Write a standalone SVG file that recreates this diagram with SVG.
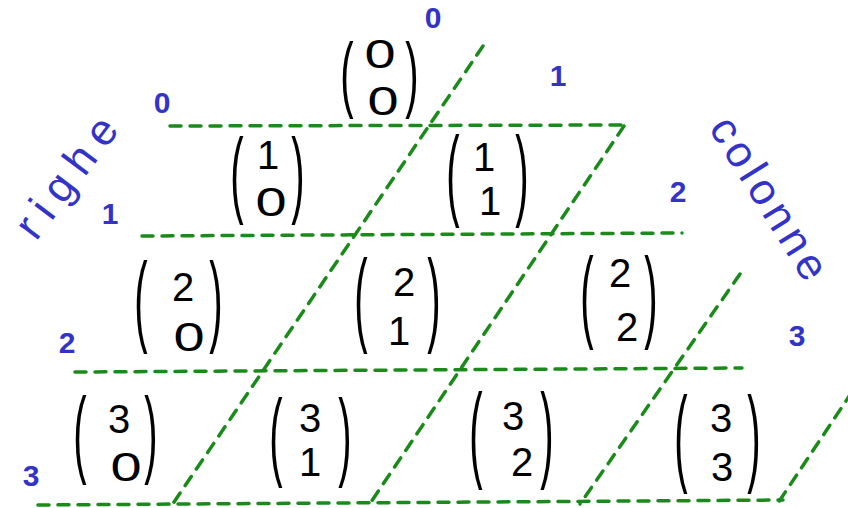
<svg xmlns="http://www.w3.org/2000/svg" width="848" height="508" viewBox="0 0 848 508">
<style>
.g{stroke:#1a8a1a;stroke-width:3.5;stroke-dasharray:11 9;stroke-linecap:round;fill:none}
.p{font-family:"Liberation Sans",Arial,sans-serif;font-size:32px;fill:#000;text-anchor:middle}
.d{font-family:"Liberation Sans",Arial,sans-serif;font-size:40px;fill:#000;text-anchor:middle}
.b{font-family:"Liberation Sans",Arial,sans-serif;font-size:30px;font-weight:bold;fill:#3333c8;text-anchor:middle}
.w{font-family:"Liberation Sans",Arial,sans-serif;font-size:44px;fill:#3333c8}
</style>
<rect width="848" height="508" fill="#fff"/>
<g id="connectors">
<line class="g" x1="170" y1="126" x2="624" y2="125"/>
<line class="g" x1="142" y1="236" x2="682" y2="233"/>
<line class="g" x1="75" y1="372" x2="742" y2="368"/>
<line class="g" x1="38" y1="505" x2="783" y2="500"/>
<line class="g" x1="483" y1="46" x2="172" y2="505"/>
<line class="g" x1="624" y1="126" x2="369" y2="505"/>
<line class="g" x1="740" y1="274" x2="580" y2="504"/>
<line class="g" x1="852" y1="392" x2="778" y2="503"/>
</g>
<g id="labels">
<text class="b" x="433" y="28" font-size="26">0</text>
<text class="b" x="558" y="86">1</text>
<text class="b" x="162" y="113" font-size="26">0</text>
<text class="b" x="110" y="224">1</text>
<text class="b" x="678" y="202">2</text>
<text class="b" x="67" y="353">2</text>
<text class="b" x="797" y="346">3</text>
<text class="b" x="31" y="486">3</text>
<text class="w" transform="translate(36,242) rotate(-53)" textLength="140" lengthAdjust="spacing">righe</text>
<text class="w" transform="translate(708,128) rotate(58)" textLength="184" lengthAdjust="spacing">colonne</text>
</g>
<g id="b00">
<text class="p" transform="translate(347,101.5) scale(1.25,2.6)">(</text>
<text class="p" transform="translate(412,101.5) scale(1.25,2.6)">)</text>
<text class="d" transform="translate(380,68.3) scale(1.4,1)">0</text>
<text class="d" transform="translate(383,115.3) scale(1.4,1)">0</text>
</g>
<g id="b10">
<text class="p" transform="translate(237,205) scale(1.25,2.97)">(</text>
<text class="p" transform="translate(298,205) scale(1.25,2.97)">)</text>
<text class="d" x="268" y="169.3">1</text>
<text class="d" transform="translate(271,216.3) scale(1.4,1)">0</text>
</g>
<g id="b11">
<text class="p" transform="translate(453,207) scale(1.25,3.1)">(</text>
<text class="p" transform="translate(522,207) scale(1.25,3.1)">)</text>
<text class="d" x="484" y="171.3">1</text>
<text class="d" x="490" y="215.3">1</text>
</g>
<g id="b20">
<text class="p" transform="translate(141,333) scale(1.25,3.1)">(</text>
<text class="p" transform="translate(216,333) scale(1.25,3.1)">)</text>
<text class="d" x="183" y="301.3">2</text>
<text class="d" transform="translate(189,351.3) scale(1.4,1)">0</text>
</g>
<g id="b21">
<text class="p" transform="translate(361,332) scale(1.25,3.27)">(</text>
<text class="p" transform="translate(434,332) scale(1.25,3.27)">)</text>
<text class="d" x="404" y="296.3">2</text>
<text class="d" x="399" y="345.3">1</text>
</g>
<g id="b22">
<text class="p" transform="translate(587,328.6) scale(1.25,3.17)">(</text>
<text class="p" transform="translate(651,328.6) scale(1.25,3.17)">)</text>
<text class="d" x="620" y="287.3">2</text>
<text class="d" x="627" y="341.3">2</text>
</g>
<g id="b30">
<text class="p" transform="translate(80,465.4) scale(1.25,3.03)">(</text>
<text class="p" transform="translate(151,465.4) scale(1.25,3.03)">)</text>
<text class="d" x="119" y="433.3">3</text>
<text class="d" transform="translate(126,481.3) scale(1.4,1)">0</text>
</g>
<g id="b31">
<text class="p" transform="translate(276,468.3) scale(1.25,3.07)">(</text>
<text class="p" transform="translate(345,468.3) scale(1.25,3.07)">)</text>
<text class="d" x="310" y="432.3">3</text>
<text class="d" x="310" y="476.3">1</text>
</g>
<g id="b32">
<text class="p" transform="translate(476,467.6) scale(1.25,3.3)">(</text>
<text class="p" transform="translate(547,467.6) scale(1.25,3.3)">)</text>
<text class="d" x="513" y="430.3">3</text>
<text class="d" x="522" y="476.3">2</text>
</g>
<g id="b33">
<text class="p" transform="translate(681,471.5) scale(1.25,3.34)">(</text>
<text class="p" transform="translate(754,471.5) scale(1.25,3.34)">)</text>
<text class="d" x="721" y="432.3">3</text>
<text class="d" x="722" y="481.3">3</text>
</g>
</svg>
